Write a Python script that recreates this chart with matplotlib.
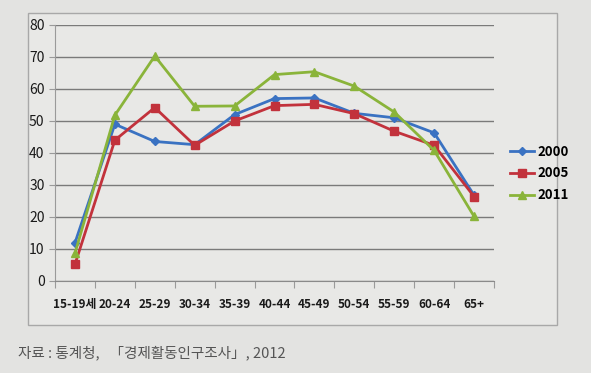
import matplotlib
matplotlib.use("Agg")
import matplotlib.pyplot as plt
from matplotlib.patches import Rectangle
from matplotlib import font_manager
import numpy as np

plt.rcParams['font.family'] = ['Noto Sans CJK KR', 'DejaVu Sans']

categories = ["15-19세", "20-24", "25-29", "30-34", "35-39", "40-44",
              "45-49", "50-54", "55-59", "60-64", "65+"]
s2000 = [11.9, 49.0, 43.6, 42.6, 52.0, 57.0, 57.2, 52.4, 51.0, 46.3, 26.8]
s2005 = [5.2, 44.0, 54.2, 42.4, 50.0, 54.8, 55.2, 52.3, 46.8, 42.4, 26.4]
s2011 = [8.6, 51.8, 70.3, 54.6, 54.7, 64.5, 65.4, 60.9, 52.8, 40.8, 20.2]
years = ["2000", "2005", "2011"]
caption = "자료 : 통계청,   「경제활동인구조사」, 2012"

names = {f.name for f in font_manager.fontManager.ttflist}
xfam = ['Liberation Sans Narrow', 'Noto Sans CJK KR'] if 'Liberation Sans Narrow' in names \
    else ['Noto Sans CJK KR', 'DejaVu Sans']
xsize = 9.5 if 'Liberation Sans Narrow' in names else 8.5

W, H = 591, 373
fig = plt.figure(figsize=(W/100, H/100), dpi=100)
fig.patch.set_facecolor('#e3e3e1')

bg = fig.add_axes([0, 0, 1, 1], zorder=-5)
bg.set_xlim(0, W)
bg.set_ylim(H, 0)
bg.axis('off')
bg.add_patch(Rectangle((28, 13), 557-28, 325-13, facecolor='#e8e8e6',
                       edgecolor='#a8a8a8', linewidth=1.0))

ax = fig.add_axes([55/W, 1-281/H, (494-55)/W, (281-25)/H], zorder=1)
ax.set_facecolor('none')
x = np.arange(len(categories))
colors = ['#3a72c2', '#c2323c', '#8ab43a']
markers = ['D', 's', '^']
msizes = [4, 5.5, 6]
for vals, c, m, ms, lab in zip([s2000, s2005, s2011], colors, markers, msizes, years):
    ax.plot(x, vals, color=c, marker=m, markersize=ms, linewidth=2.0, label=lab, zorder=3)

ax.set_xlim(-0.5, len(categories)-0.5)
ax.set_ylim(0, 80)
ax.set_yticks(np.arange(0, 81, 10))
ax.yaxis.grid(True, color='#7a7a7a', linewidth=1.0)
ax.set_axisbelow(True)
for s in ['top', 'right']:
    ax.spines[s].set_visible(False)
ax.spines['left'].set_color('#9a9a9a')
ax.spines['bottom'].set_color('#8a8a8a')
ax.tick_params(axis='y', length=4, colors='#9a9a9a', labelcolor='#1a1a1a', labelsize=10)
ax.set_xticks(np.arange(-0.5, len(categories), 1))
ax.set_xticklabels([])
ax.set_xticks(x, minor=True)
ax.set_xticklabels(categories, minor=True, fontsize=xsize, fontweight='bold',
                   color='#1a1a1a', family=xfam)
ax.tick_params(axis='x', which='major', length=5, colors='#9a9a9a')
ax.tick_params(axis='x', which='minor', length=0, pad=12)

leg = ax.legend(loc='center left', bbox_to_anchor=(1.01, 0.42), frameon=False,
                fontsize=9.5, handlelength=1.8, handletextpad=0.3, labelspacing=0.6)
for t in leg.get_texts():
    t.set_fontweight('bold')

fig.text(18/W, 1-353/H, caption, fontsize=10.5, color='#555555', va='center')

fig.savefig('out.png', dpi=100, facecolor=fig.get_facecolor())
